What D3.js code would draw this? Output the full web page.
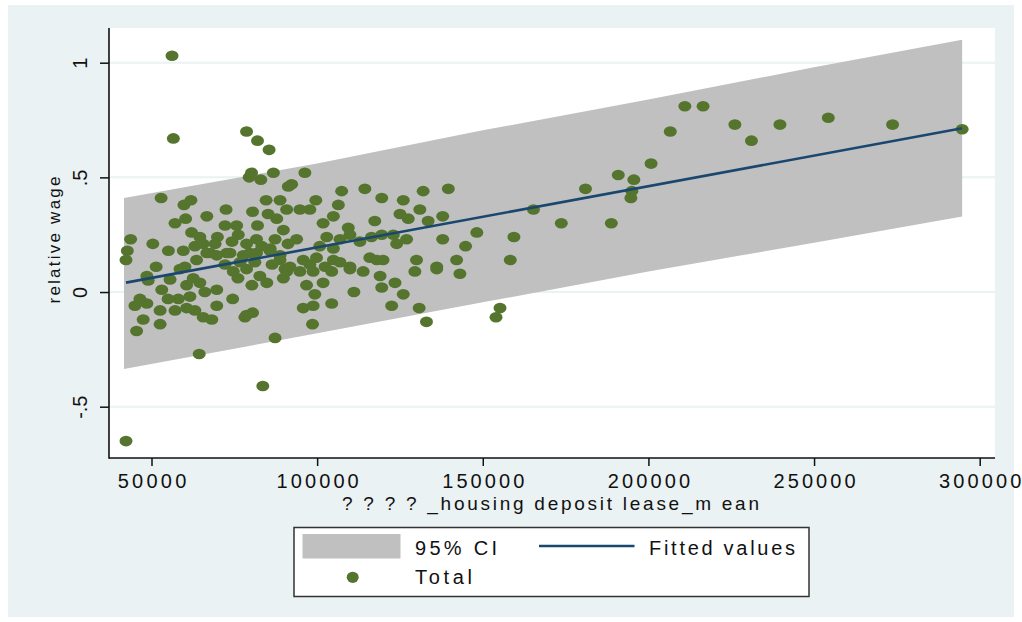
<!DOCTYPE html>
<html>
<head>
<meta charset="utf-8">
<script src="https://cdn.jsdelivr.net/npm/d3@7"></script>
<style>
  body { margin: 0; background: #fff; }
  svg text { font-family: "Liberation Sans", Arial, sans-serif; fill: #111; }
</style>
</head>
<body>
<div id="chart"></div>
<script>
// scatter: housing deposit lease mean vs relative wage
var depositMean = [
  56600, 78700, 82000, 85500, 80200, 83000, 79500, 86800, 52900, 61900,
  59800, 66700, 72500, 80500, 84600, 88800, 91300, 60300, 57100, 62100,
  69900, 72200, 75700, 82000, 85200, 87800, 89800, 43700, 50400, 55100,
  42700, 63100, 65600, 76200, 78700, 81700, 85800, 59600, 67700, 72700,
  79700, 88800, 42300, 51400, 48600, 49000, 58600, 60100, 63600, 66700,
  69700, 73700, 77700, 81700, 85800, 88800, 74700, 78700, 82700, 84800,
  89800, 62600, 64600, 60600, 53100, 69700, 74500, 46500, 45000, 48600,
  52600, 57100, 60600, 63100, 61600, 58100, 69700, 65600, 68200, 47500,
  52600, 45500, 78200, 80500, 78700, 87300, 64400, 83600, 42300, 56200,
  96300, 92300, 107400, 114400, 119500, 126000, 132000, 139600, 99600, 90800,
  94800, 97800, 106400, 104900, 101800, 125000, 127500, 131000, 133500, 137900,
  117400, 109400, 93800, 102900, 106900, 109900, 112900, 116400, 119500, 123000,
  127000, 137900, 100800, 104900, 124000, 95800, 99800, 104900, 115900, 119900,
  130000, 142100, 109900, 136100, 90800, 94800, 98800, 104400, 96800, 101800,
  99300, 95800, 98800, 104400, 98600, 109900, 113900, 111100, 119000, 119500,
  123500, 126000, 122500, 129500, 136100, 130800, 133000, 118000, 143100, 144800,
  148200, 159400, 158300, 165300, 173700, 155200, 154000, 181000, 188800, 190900,
  195600, 195000, 194700, 200800, 206600, 211000, 216500, 226100, 231100, 239700,
  254300, 273700, 294700, 64600, 69200, 74300, 83300, 87300, 91200, 72200,
  76700, 81200, 86400, 90300, 76100, 80300, 97800, 102400, 106900, 91800,
  55600, 66100, 55000
];
var relWage = [
  0.67, 0.70, 0.66, 0.62, 0.52, 0.49, 0.50, 0.52, 0.41, 0.40,
  0.38, 0.33, 0.36, 0.35, 0.40, 0.40, 0.46, 0.32, 0.30, 0.26,
  0.24, 0.29, 0.29, 0.29, 0.34, 0.32, 0.27, 0.23, 0.21, 0.18,
  0.18, 0.20, 0.21, 0.25, 0.21, 0.23, 0.19, 0.18, 0.17, 0.17,
  0.17, 0.16, 0.14, 0.11, 0.07, 0.05, 0.10, 0.11, 0.14, 0.17,
  0.16, 0.17, 0.16, 0.17, 0.18, 0.14, 0.09, 0.10, 0.07, 0.04,
  0.06, 0.06, 0.04, 0.03, 0.01, 0.01, -0.03, -0.03, -0.06, -0.05,
  -0.08, -0.08, -0.07, -0.08, -0.02, -0.03, -0.06, -0.11, -0.12, -0.12,
  -0.14, -0.17, -0.11, -0.09, -0.10, -0.20, -0.27, -0.41, -0.65, 1.03,
  0.52, 0.47, 0.44, 0.45, 0.41, 0.40, 0.44, 0.45, 0.40, 0.36,
  0.36, 0.36, 0.38, 0.33, 0.30, 0.34, 0.32, 0.36, 0.31, 0.33,
  0.31, 0.28, 0.23, 0.24, 0.23, 0.25, 0.22, 0.24, 0.25, 0.25,
  0.23, 0.23, 0.20, 0.19, 0.21, 0.14, 0.15, 0.14, 0.15, 0.14,
  0.14, 0.14, 0.11, 0.11, 0.09, 0.09, 0.09, 0.09, 0.03, 0.04,
  -0.01, -0.07, -0.06, -0.05, -0.14, 0.10, 0.09, 0.00, 0.07, 0.02,
  0.04, -0.01, -0.06, 0.09, 0.10, -0.07, -0.13, 0.14, 0.08, 0.20,
  0.26, 0.24, 0.14, 0.36, 0.30, -0.07, -0.11, 0.45, 0.30, 0.51,
  0.49, 0.44, 0.41, 0.56, 0.70, 0.81, 0.81, 0.73, 0.66, 0.73,
  0.76, 0.73, 0.71, 0.24, 0.21, 0.22, 0.20, 0.23, 0.21, 0.12,
  0.13, 0.13, 0.12, 0.10, 0.06, 0.03, 0.12, 0.11, 0.13, 0.11,
  0.055, 0.00, -0.03
];

// fitted values and 95% CI band
var fitX = [42300, 294700];
var fitY = [0.041, 0.714];
var ciX  = [41700, 100000, 150000, 200000, 250000, 294700];
var ciHi = [0.41, 0.56, 0.705, 0.84, 0.98, 1.10];
var ciLo = [-0.336, -0.18, -0.045, 0.09, 0.215, 0.329];

var xTicks = [50000, 100000, 150000, 200000, 250000, 300000];
var yTicks = [-0.5, 0, 0.5, 1];
var yTickLabels = ["-.5", "0", ".5", "1"];

var legendLabels = ["95% CI", "Fitted values", "Total"];

var W = 1022, H = 622;
var p = {left: 109, top: 28, right: 995, bottom: 458};
var green = "#55752f", navy = "#1a476f", band = "#c0c0c0", bg = "#eaf2f3";

var svg = d3.select("#chart").append("svg")
    .attr("width", W)
    .attr("height", H);

// graph region + plot region
svg.append("rect").attr("x", 8).attr("y", 5).attr("width", 1006).attr("height", 612).attr("fill", bg);
svg.append("rect").attr("x", p.left).attr("y", p.top)
    .attr("width", p.right - p.left).attr("height", p.bottom - p.top).attr("fill", "#fff");

var x = d3.scaleLinear().domain([50000, 300000]).range([151.5, 979.7]);
var y = d3.scaleLinear().domain([-0.5, 1]).range([406.7, 62.7]);

// grid
svg.append("g").selectAll("line")
    .data(yTicks)
    .enter().append("line")
    .attr("x1", p.left).attr("x2", p.right)
    .attr("y1", function(d) { return y(d); })
    .attr("y2", function(d) { return y(d); })
    .attr("stroke", bg).attr("stroke-width", 2);

// CI band
var ci = ciX.map(function(d, i) { return {x: d, lo: ciLo[i], hi: ciHi[i]}; });
svg.append("path")
    .datum(ci)
    .attr("fill", band)
    .attr("d", d3.area()
        .x(function(d) { return x(d.x); })
        .y0(function(d) { return y(d.lo); })
        .y1(function(d) { return y(d.hi); }));

// points
var pts = depositMean.map(function(d, i) { return {x: d, y: relWage[i]}; });
svg.append("g").selectAll("ellipse")
    .data(pts)
    .enter().append("ellipse")
    .attr("cx", function(d) { return x(d.x); })
    .attr("cy", function(d) { return y(d.y); })
    .attr("rx", 6.5).attr("ry", 5.3)
    .attr("fill", green);

// fitted line
svg.append("path")
    .datum(fitX.map(function(d, i) { return [d, fitY[i]]; }))
    .attr("fill", "none")
    .attr("stroke", navy)
    .attr("stroke-width", 2.6)
    .attr("d", d3.line()
        .x(function(d) { return x(d[0]); })
        .y(function(d) { return y(d[1]); }));

// axes
var xAxis = d3.axisBottom(x).tickValues(xTicks).tickSize(8).tickFormat(d3.format("d"));
var gx = svg.append("g").attr("transform", "translate(0," + p.bottom + ")").call(xAxis);
gx.select(".domain").remove();
gx.selectAll("line").attr("stroke", "#111").attr("stroke-width", 1.5);
gx.selectAll("text")
    .attr("y", 30).attr("dy", null)
    .style("font-size", "20px")
    .attr("textLength", function(d) { return String(d).length * 13.7; })
    .attr("lengthAdjust", "spacing");

var yAxis = d3.axisLeft(y).tickValues(yTicks).tickSize(9)
    .tickFormat(function(d, i) { return yTickLabels[i]; });
var gy = svg.append("g").attr("transform", "translate(" + p.left + ",0)").call(yAxis);
gy.select(".domain").remove();
gy.selectAll("line").attr("stroke", "#111").attr("stroke-width", 1.5);
gy.selectAll("text")
    .attr("x", 0).attr("dy", null)
    .attr("text-anchor", "middle")
    .attr("transform", "translate(-22,0) rotate(-90)")
    .style("font-size", "20px");

svg.append("line").attr("x1", p.left).attr("x2", p.left).attr("y1", p.top).attr("y2", p.bottom + 0.75)
    .attr("stroke", "#111").attr("stroke-width", 1.6);
svg.append("line").attr("x1", p.left).attr("x2", p.right).attr("y1", p.bottom).attr("y2", p.bottom)
    .attr("stroke", "#111").attr("stroke-width", 1.6);

// axis titles
svg.append("text")
    .attr("x", 550.5).attr("y", 510)
    .attr("text-anchor", "middle")
    .style("font-size", "19px")
    .attr("textLength", 417).attr("lengthAdjust", "spacing")
    .text("? ? ? ? _housing deposit lease_m ean");

svg.append("text")
    .attr("transform", "translate(60,240) rotate(-90)")
    .attr("text-anchor", "middle")
    .style("font-size", "17px")
    .attr("textLength", 127).attr("lengthAdjust", "spacing")
    .text("relative wage");

// legend
var lg = svg.append("g");
lg.append("rect").attr("x", 294).attr("y", 527.5).attr("width", 515).attr("height", 69)
    .attr("fill", "#fff").attr("stroke", "#333").attr("stroke-width", 1.5);
lg.append("rect").attr("x", 302.5).attr("y", 534).attr("width", 98).attr("height", 24.5).attr("fill", band);
lg.append("line").attr("x1", 539).attr("x2", 634.5).attr("y1", 546).attr("y2", 546)
    .attr("stroke", navy).attr("stroke-width", 2.6);
lg.append("ellipse").attr("cx", 352.7).attr("cy", 577.3).attr("rx", 6).attr("ry", 5.6).attr("fill", green);

var legendPos = [[415, 555, 82], [649, 555, 146], [415, 584, 57]];
lg.selectAll("text.lab")
    .data(legendLabels)
    .enter().append("text")
    .attr("class", "lab")
    .attr("x", function(d, i) { return legendPos[i][0]; })
    .attr("y", function(d, i) { return legendPos[i][1]; })
    .attr("textLength", function(d, i) { return legendPos[i][2]; })
    .attr("lengthAdjust", "spacing")
    .style("font-size", "20px")
    .text(function(d) { return d; });
</script>
</body>
</html>
